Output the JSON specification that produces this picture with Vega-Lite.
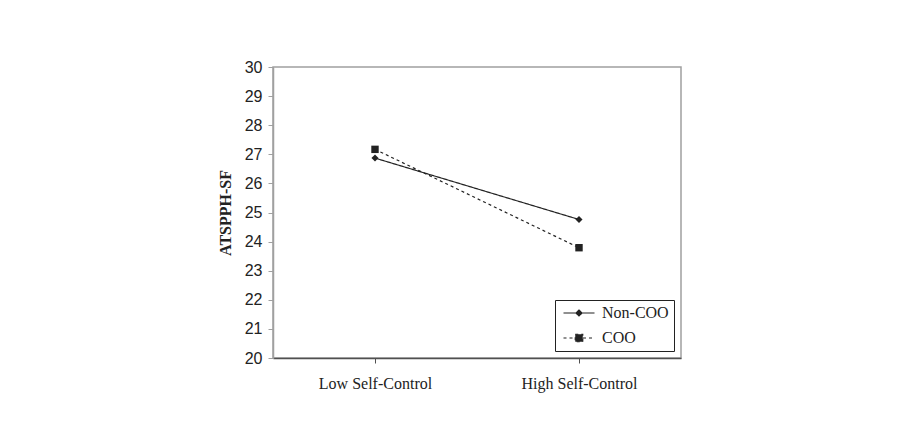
{
  "$schema": "https://vega.github.io/schema/vega-lite/v6.json",
  "width": 408,
  "height": 291,
  "autosize": {"type": "none"},
  "padding": {"left": 273, "top": 67, "right": 219, "bottom": 88},
  "background": "white",
  "config": {
    "view": {"stroke": "#a0a0a0", "strokeWidth": 1.5, "fill": "white"}
  },
  "data": {
    "values": [
      {"control": "Low Self-Control", "group": "Non-COO", "score": 26.87},
      {"control": "High Self-Control", "group": "Non-COO", "score": 24.76},
      {"control": "Low Self-Control", "group": "COO", "score": 27.17},
      {"control": "High Self-Control", "group": "COO", "score": 23.79}
    ]
  },
  "encoding": {
    "x": {
      "field": "control",
      "type": "nominal",
      "sort": ["Low Self-Control", "High Self-Control"],
      "scale": {"paddingInner": 0, "paddingOuter": 0},
      "axis": {
        "title": null,
        "labelAngle": 0,
        "bandPosition": 0,
        "labelFont": "Liberation Serif",
        "labelFontSize": 16,
        "labelColor": "#222",
        "labelPadding": 12,
        "domainColor": "#505050",
        "domainWidth": 1.5,
        "tickColor": "#505050",
        "tickWidth": 1,
        "tickSize": 5
      }
    },
    "y": {
      "field": "score",
      "type": "quantitative",
      "scale": {"domain": [20, 30], "nice": false, "zero": false},
      "axis": {
        "title": "ATSPPH-SF",
        "titleFont": "Liberation Serif",
        "titleFontSize": 16,
        "titleFontWeight": "bold",
        "titleColor": "#222",
        "titlePadding": 11,
        "values": [20, 21, 22, 23, 24, 25, 26, 27, 28, 29, 30],
        "labelFont": "Liberation Sans",
        "labelFontSize": 16,
        "labelColor": "#222",
        "labelPadding": 6,
        "grid": false,
        "domainColor": "#a0a0a0",
        "domainWidth": 1.5,
        "tickColor": "#a0a0a0",
        "tickSize": 5
      }
    }
  },
  "layer": [
    {
      "mark": {"type": "line", "color": "#222", "strokeWidth": 1.2},
      "encoding": {
        "detail": {"field": "group"},
        "strokeDash": {
          "field": "group",
          "type": "nominal",
          "sort": ["Non-COO", "COO"],
          "scale": {"domain": ["Non-COO", "COO"], "range": [[1, 0], [3, 3]]},
          "legend": {
            "title": null,
            "orient": "bottom-right",
            "offset": 7,
            "strokeColor": "#222",
            "padding": 5,
            "rowPadding": 9,
            "labelFont": "Liberation Serif",
            "labelFontSize": 16,
            "labelColor": "#222",
            "labelOffset": 15,
            "symbolSize": 100,
            "symbolOffset": 11,
            "symbolStrokeColor": "#222",
            "symbolFillColor": "#222",
            "symbolStrokeWidth": 1.2,
            "encode": {
              "symbols": {
                "update": {
                  "shape": {"signal": "datum.value === 'COO' ? 'M-3.1,0L-0.8,0M0.8,0L3.1,0M-0.75,-0.75L0.75,-0.75L0.75,0.75L-0.75,0.75Z' : 'M-3.1,0L-0.6,0M0.6,0L3.1,0M0,-0.6L0.6,0L0,0.6L-0.6,0Z'"},
                  "fill": {"value": "#222"},
                  "stroke": {"value": "#222"},
                  "strokeWidth": {"value": 1.2},
                  "strokeOpacity": {"value": 1}
                }
              }
            }
          }
        }
      }
    },
    {
      "transform": [{"filter": "datum.group === 'Non-COO'"}],
      "mark": {"type": "point", "filled": true, "color": "#222", "opacity": 1, "shape": "diamond", "size": 50}
    },
    {
      "transform": [{"filter": "datum.group === 'COO'"}],
      "mark": {"type": "point", "filled": true, "color": "#222", "opacity": 1, "shape": "square", "size": 55}
    }
  ]
}
